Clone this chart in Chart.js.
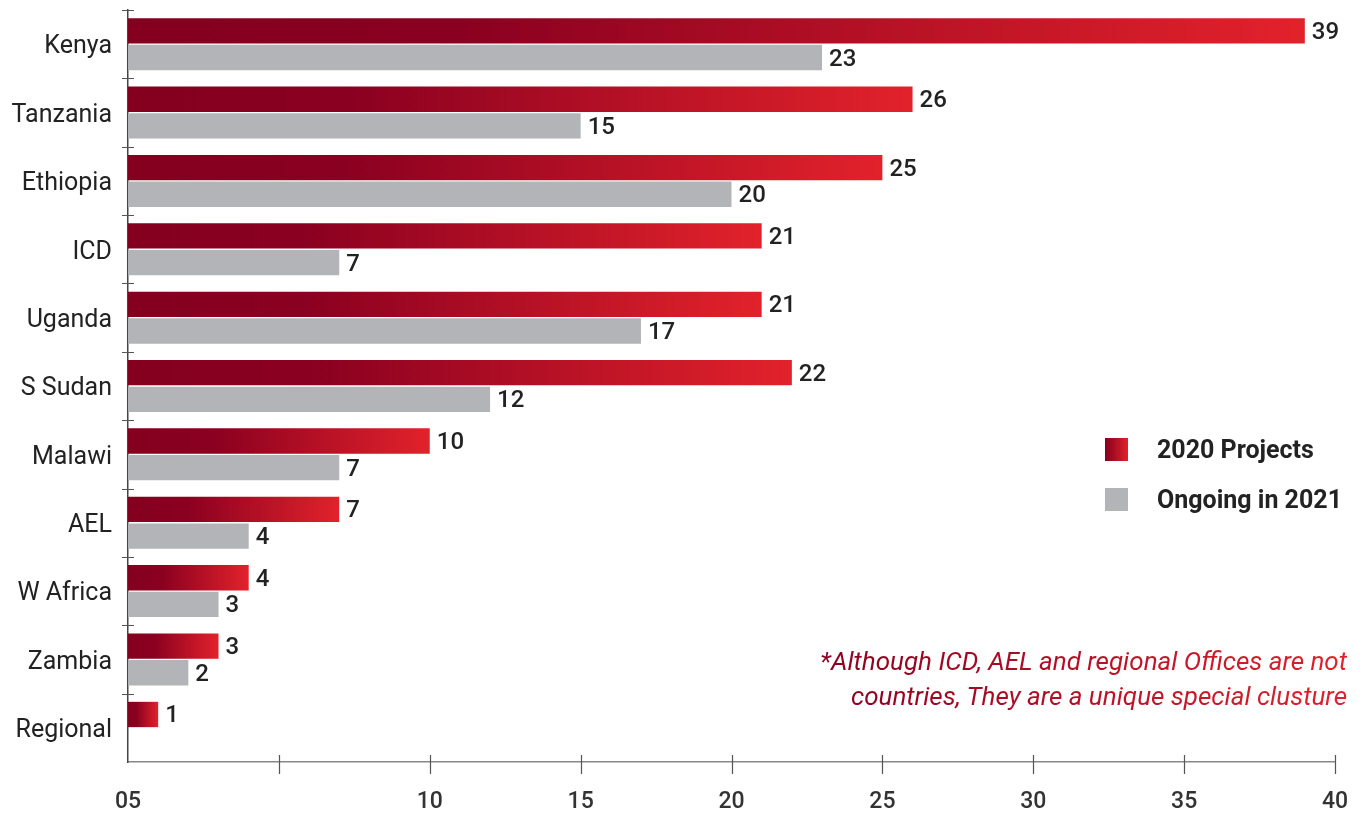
<!DOCTYPE html>
<html>
<head>
<meta charset="utf-8">
<script src="https://cdn.jsdelivr.net/npm/chart.js@4"></script>
<style>
  html, body { margin: 0; padding: 0; background: #fff; }
  #wrap { position: relative; width: 1367px; height: 817px; }
  #legend { position: absolute; left: 1105px; top: 424px; font: 700 25px Roboto, sans-serif; color: #222; }
  .item { display: flex; align-items: center; height: 50px; }
  .sw { width: 23px; height: 23px; margin-right: 29px; }
  #note { position: absolute; right: 20px; top: 644px; text-align: right; font: italic 26px Roboto, sans-serif; line-height: 35px;
          background: linear-gradient(90deg, #8a0020, #e0222c); -webkit-background-clip: text; background-clip: text; color: transparent; }
</style>
</head>
<body>
<div id="wrap">
  <canvas id="chart" width="1367" height="817"></canvas>
  <div id="legend">
    <div class="item"><div class="sw" style="background:linear-gradient(90deg,#86001f,#e0222a)"></div>2020 Projects</div>
    <div class="item"><div class="sw" style="background:#b3b4b8"></div>Ongoing in 2021</div>
  </div>
  <div id="note">*Although ICD, AEL and regional Offices are not<br>countries, They are a unique special clusture</div>
</div>
<script>
// data
const categories = ['Kenya', 'Tanzania', 'Ethiopia', 'ICD', 'Uganda', 'S Sudan', 'Malawi', 'AEL', 'W Africa', 'Zambia', 'Regional'];
const projects2020 = [39, 26, 25, 21, 21, 22, 10, 7, 4, 3, 1];
const ongoing2021 = [23, 15, 20, 7, 17, 12, 7, 4, 3, 2, null];
const xTickLabels = { 0: '05', 5: '', 10: '10', 15: '15', 20: '20', 25: '25', 30: '30', 35: '35', 40: '40' };

function barGradient(c) {
  const chart = c.chart;
  const area = chart.chartArea;
  if (!area || c.raw == null) return '#8a0020';
  const x = chart.scales.x;
  const x0 = x.getPixelForValue(0);
  const x1 = x.getPixelForValue(c.raw);
  const g = chart.ctx.createLinearGradient(x0, 0, x1, 0);
  g.addColorStop(0, '#84001e');
  g.addColorStop(0.28, '#8a0020');
  g.addColorStop(1, '#e2222b');
  return g;
}

// value labels next to the bar ends
const valueLabels = {
  id: 'valueLabels',
  afterDatasetsDraw(chart) {
    const ctx = chart.ctx;
    ctx.save();
    ctx.font = '500 24px Roboto, sans-serif';
    ctx.fillStyle = '#222';
    ctx.textBaseline = 'middle';
    chart.data.datasets.forEach((ds, di) => {
      chart.getDatasetMeta(di).data.forEach((bar, i) => {
        if (ds.data[i] == null) return;
        ctx.fillText(ds.data[i], bar.x + 7, bar.y + 2);
      });
    });
    ctx.restore();
  }
};

// small cross ticks on both axes
const crossTicks = {
  id: 'crossTicks',
  afterDraw(chart) {
    const ctx = chart.ctx, x = chart.scales.x, y = chart.scales.y, a = chart.chartArea;
    ctx.save();
    ctx.strokeStyle = '#555';
    ctx.lineWidth = 1.2;
    ctx.beginPath();
    for (let v = 5; v <= 40; v += 5) {
      const px = Math.round(x.getPixelForValue(v)) + 0.5;
      ctx.moveTo(px, a.bottom - 7);
      ctx.lineTo(px, a.bottom + 12);
    }
    const step = y.getPixelForValue(1) - y.getPixelForValue(0);
    for (let i = 0; i < categories.length; i++) {
      const py = Math.round(y.getPixelForValue(i) - step / 2) + 0.5;
      ctx.moveTo(a.left - 6, py);
      ctx.lineTo(a.left + 6, py);
    }
    ctx.stroke();
    ctx.restore();
  }
};

new Chart(document.getElementById('chart'), {
  type: 'bar',
  data: {
    labels: categories,
    datasets: [
      { label: '2020 Projects', data: projects2020, backgroundColor: barGradient, categoryPercentage: 0.78, barPercentage: 0.95 },
      { label: 'Ongoing in 2021', data: ongoing2021, backgroundColor: '#b3b4b8', categoryPercentage: 0.78, barPercentage: 0.95 }
    ]
  },
  options: {
    indexAxis: 'y',
    responsive: false,
    animation: false,
    layout: { padding: { top: 10, right: 32, left: 0, bottom: 0 } },
    plugins: { legend: { display: false }, tooltip: { enabled: false } },
    scales: {
      x: {
        min: 0, max: 40,
        afterFit(s) { s.height = 55; s.paddingLeft = 0; s.paddingRight = 0; },
        grid: { display: false, drawTicks: false },
        border: { color: '#888', width: 1.5 },
        ticks: {
          stepSize: 5, padding: 26, color: '#333',
          font: { family: 'Roboto', size: 23, weight: '500' },
          callback: v => xTickLabels[v]
        }
      },
      y: {
        afterFit(s) { s.width = 128; s.paddingTop = 0; s.paddingBottom = 0; },
        grid: { display: false, drawTicks: false },
        border: { color: '#444', width: 1.5 },
        ticks: { padding: 16, labelOffset: 3, color: '#222', font: { family: 'Roboto', size: 25 } }
      }
    }
  },
  plugins: [valueLabels, crossTicks]
});
</script>
</body>
</html>
